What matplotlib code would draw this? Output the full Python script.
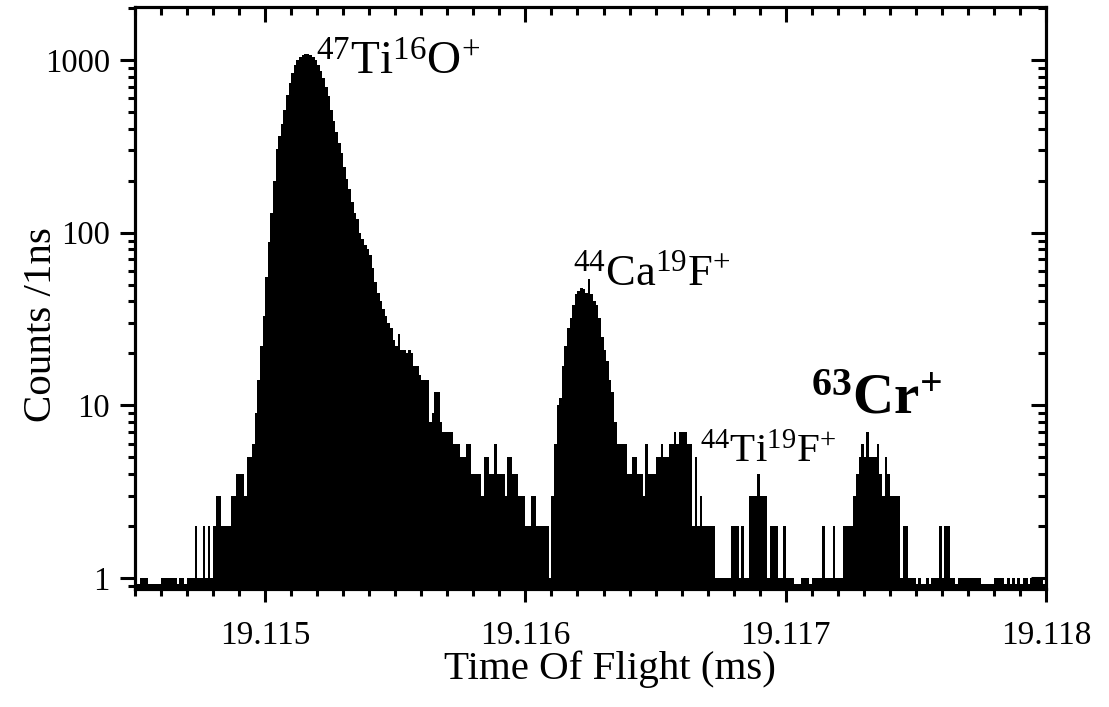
import numpy as np
import matplotlib
matplotlib.use('Agg')
from matplotlib import pyplot as plt
from matplotlib.ticker import MultipleLocator, LogLocator, FuncFormatter, NullFormatter

# time of flight histogram, counts per 10 ns bin starting at 19.1145 ms
t_start = 19.1145
bin_ms = 0.00001

counts_a = [0, 0, 1, 1, 1, 0, 0, 0, 0, 0,
            1, 1, 1, 1, 1, 1, 0, 1, 1, 0,
            1, 1, 1, 2, 1, 1, 2, 1, 2, 1,
            2, 3, 3, 2, 2, 2, 2, 3, 3, 4,
            4, 4, 3, 5, 5, 6, 9, 14, 22, 33]
counts_b = [55, 88, 130, 200, 305, 365, 425, 515, 625, 735,
            845, 930, 1000, 1040, 1070, 1085, 1080, 1065, 1040, 1000,
            930, 860, 790, 700, 620, 510, 440, 380, 330, 290,
            240, 205, 180, 150, 130, 120, 100, 92, 85, 80,
            74, 62, 52, 45, 40, 36, 33, 30, 28, 24,
            22, 26, 21, 21, 20, 21, 20, 17, 17, 15,
            14, 14, 14, 8, 9, 12, 12, 8, 7, 7,
            7, 7, 6, 6, 6, 5, 5, 6, 6, 4,
            4, 4, 4, 3, 5, 5, 4, 4, 6, 4,
            4, 4, 3, 5, 5, 4, 4, 3, 3, 3]
counts_c = [2, 2, 3, 3, 2, 2, 2, 2, 2, 1,
            3, 6, 10, 11, 17, 22, 28, 32, 38, 44,
            46, 48, 47, 45, 54, 44, 40, 38, 32, 25,
            21, 18, 14, 12, 8, 6, 6, 6, 6, 4,
            4, 5, 5, 4, 4, 3, 6, 4, 4, 4,
            5, 5, 6, 5, 5, 6, 6, 7, 6, 7,
            7, 7, 6, 6, 2, 5, 2, 3, 2, 2,
            2, 2, 2, 1, 1, 1, 1, 1, 1, 2,
            2, 2, 1, 2, 1, 1, 3, 3, 3, 4,
            3, 3, 3, 1, 2, 2, 2, 1, 1, 2]
counts_d = [1, 1, 1, 0, 0, 0, 1, 1, 1, 0,
            1, 1, 1, 1, 2, 1, 1, 1, 2, 1,
            1, 1, 2, 2, 2, 2, 3, 4, 5, 6,
            5, 7, 5, 5, 5, 6, 4, 3, 5, 4,
            3, 3, 3, 3, 1, 2, 2, 1, 1, 1,
            0, 1, 0, 0, 1, 0, 1, 1, 1, 2,
            1, 2, 2, 1, 1, 0, 1, 1, 1, 1,
            1, 1, 1, 1, 1, 0, 0, 0, 0, 0,
            1, 1, 1, 1, 0, 1, 0, 1, 0, 1,
            0, 1, 1, 0, 1, 1, 1, 1, 1, 0]

peak_labels = [r'$^{47}$Ti$^{16}$O$^{+}$', r'$^{44}$Ca$^{19}$F$^{+}$',
               r'$^{44}$Ti$^{19}$F$^{+}$', r'$^{\mathbf{63}}$Cr$^{\mathbf{+}}$']

plt.rcParams['font.family'] = ['Liberation Serif', 'DejaVu Serif']
plt.rcParams['mathtext.fontset'] = 'custom'
plt.rcParams['mathtext.rm'] = 'Liberation Serif'
plt.rcParams['mathtext.it'] = 'Liberation Serif:italic'
plt.rcParams['mathtext.bf'] = 'Liberation Serif:bold'

counts = np.array(counts_a + counts_b + counts_c + counts_d, dtype=float)
edges = t_start + bin_ms * np.arange(len(counts) + 1)

ylo, yhi = 0.864, 2017
shown = np.where(counts > 0, counts, 0.92)  # empty bins keep the base line

fig = plt.figure(figsize=(11.09, 7.07), dpi=100)
ax = fig.add_axes([0.1217, 0.1669, 0.8215, 0.8228])
ax.stairs(shown, edges, baseline=ylo, fill=True, color='black', lw=0)

ax.set_yscale('log')
ax.set_xlim(19.1145, 19.118)
ax.set_ylim(ylo, yhi)

ax.xaxis.set_major_locator(MultipleLocator(0.001))
ax.xaxis.set_minor_locator(MultipleLocator(0.0001))
ax.xaxis.set_major_formatter(FuncFormatter(lambda v, p: '%.3f' % v))
ax.yaxis.set_major_locator(LogLocator(base=10))
ax.yaxis.set_minor_locator(LogLocator(base=10, subs=range(2, 10)))
ax.yaxis.set_major_formatter(FuncFormatter(lambda v, p: '%g' % v))
ax.yaxis.set_minor_formatter(NullFormatter())

ax.tick_params(axis='x', which='major', direction='out', length=9, width=2.2, pad=14, labelsize=24)
ax.tick_params(axis='x', which='minor', direction='out', length=5, width=2.2)
ax.tick_params(axis='y', which='major', direction='out', length=11, width=2.2, pad=7, labelsize=23.5)
ax.tick_params(axis='y', which='minor', direction='out', length=5, width=2.2)
for s in ax.spines.values():
    s.set_linewidth(2.2)

# mirrored ticks pointing inwards on top and right
top = ax.twiny()
top.set_xlim(ax.get_xlim())
top.xaxis.set_major_locator(MultipleLocator(0.001))
top.xaxis.set_minor_locator(MultipleLocator(0.0001))
top.tick_params(axis='x', which='major', direction='in', length=11, width=2.2, labeltop=False)
top.tick_params(axis='x', which='minor', direction='in', length=5.5, width=2.2)
right = ax.twinx()
right.set_yscale('log')
right.set_ylim(ylo, yhi)
right.yaxis.set_major_locator(LogLocator(base=10))
right.yaxis.set_minor_locator(LogLocator(base=10, subs=range(2, 10)))
right.tick_params(axis='y', which='major', direction='in', length=11, width=2.2, labelright=False)
right.tick_params(axis='y', which='minor', direction='in', length=6, width=2.2, labelright=False)
for a in (top, right):
    for s in a.spines.values():
        s.set_linewidth(2.2)

ax.set_xlabel('Time Of Flight (ms)', fontsize=29.5)
ax.set_ylabel('Counts /1ns', fontsize=29.5)
ax.xaxis.set_label_coords(0.521, -0.106)
ax.yaxis.set_label_coords(-0.082, 0.454)

ax.text(19.115194, 818, peak_labels[0], fontsize=34, va='baseline')
ax.text(19.116181, 49.7, peak_labels[1], fontsize=32, va='baseline')
ax.text(19.11667, 4.70, peak_labels[2], fontsize=29.5, va='baseline')
ax.text(19.117099, 9.0, peak_labels[3], fontsize=41, fontweight='bold', va='baseline')

fig.savefig('out.png', dpi=100)
